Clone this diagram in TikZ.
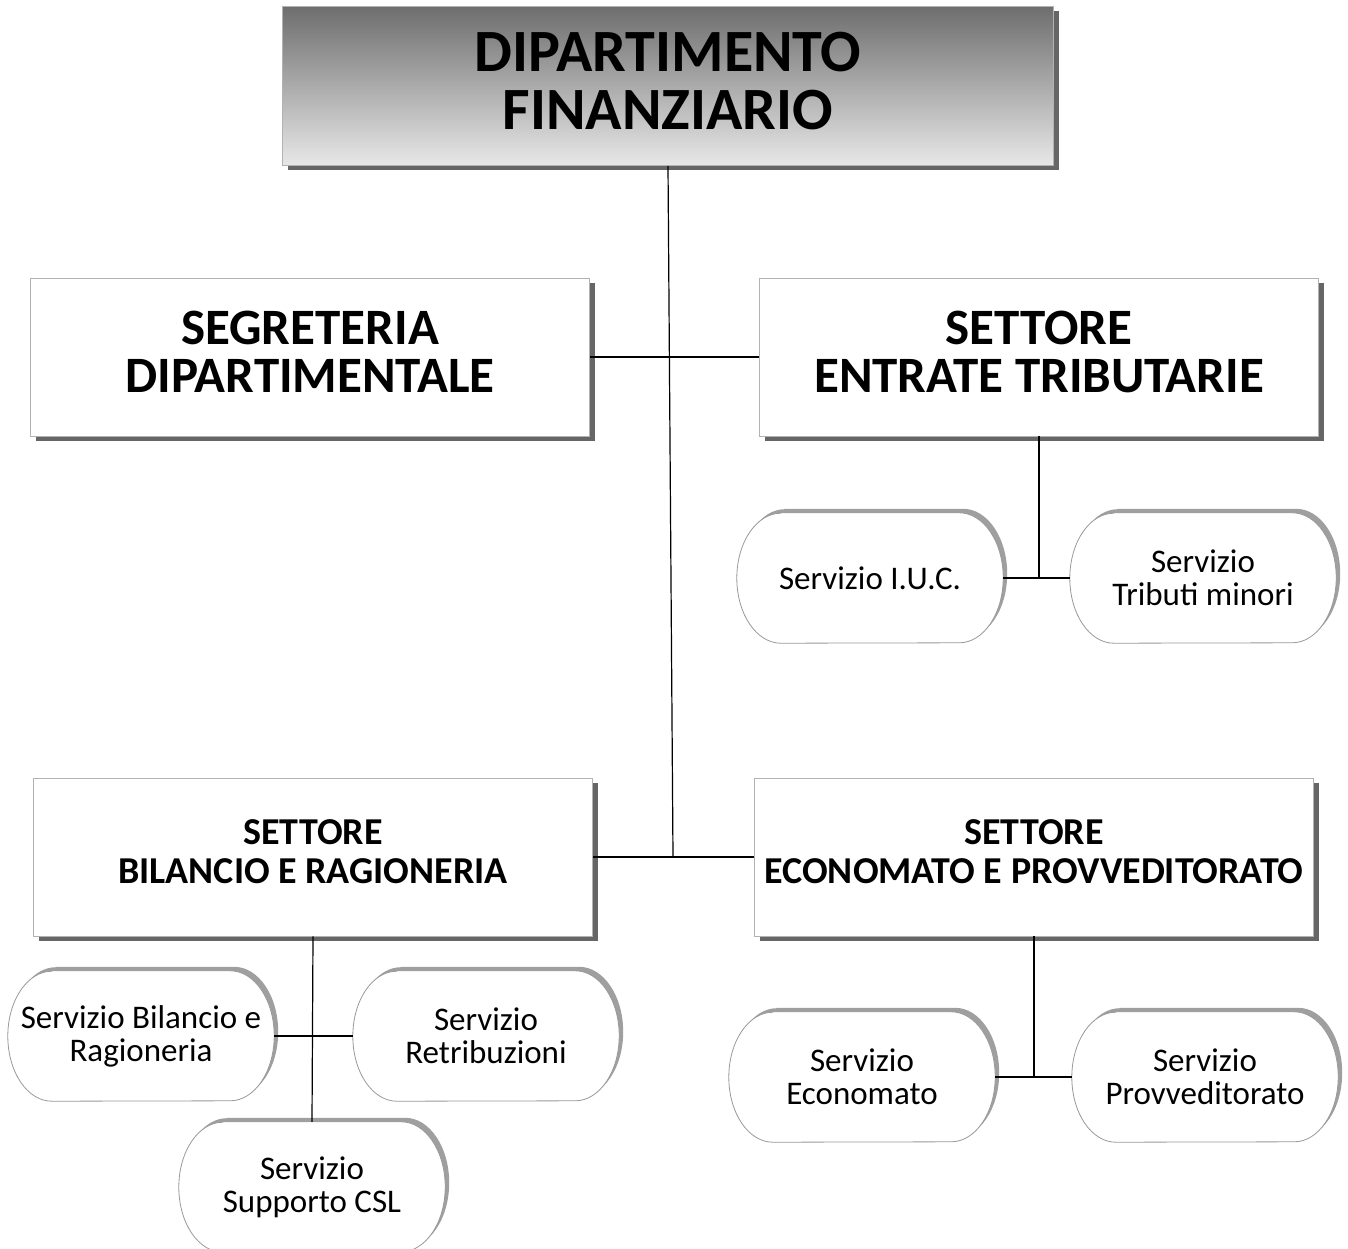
\documentclass[tikz,border=0pt]{standalone}
\usepackage{fontspec}
\setmainfont{Carlito}
\usepackage{tikz}
\usetikzlibrary{shadows,backgrounds}

\begin{document}
\begin{tikzpicture}[x=1pt,y=-1pt,
    box/.style={draw=gray!60, fill=white, line width=0.8pt, align=center,
        minimum width=559pt, minimum height=158pt, inner sep=0pt, text depth=10pt,
        drop shadow={shadow xshift=5pt, shadow yshift=-5pt, fill=black!60, opacity=1}},
    bigtxt/.style={font=\bfseries\fontsize{51}{48}\selectfont},
    midtxt/.style={font=\bfseries\fontsize{38}{39}\selectfont},
    srv/.style={minimum width=266pt, minimum height=130pt, inner sep=0pt, align=center,
        font=\fontsize{33}{33}\selectfont},
    capsule/.style={draw=gray!80, fill=white, line width=0.8pt},
    capshadow/.style={fill=gray!75},
    link/.style={draw=black, line width=1.2pt}]

\useasboundingbox (0,0) rectangle (1348,1249);

% vertice
\node[box, minimum width=771pt, minimum height=159pt, top color=black!57, bottom color=black!9,
    font=\bfseries\fontsize{60}{58}\selectfont] (dip) at (668,86) {DIPARTIMENTO\\FINANZIARIO};

% settori
\node[box, bigtxt] (segr) at (310,357) {SEGRETERIA\\DIPARTIMENTALE};
\node[box, bigtxt] (entr) at (1039,357) {SETTORE\\ENTRATE TRIBUTARIE};
\node[box, midtxt] (bil) at (313,857) {SETTORE\\BILANCIO E RAGIONERIA};
\node[box, midtxt] (econ) at (1034,857) {SETTORE\\ECONOMATO E PROVVEDITORATO};

% servizi
\node[srv] (iuc) at (870,578) {Servizio I.U.C.};
\node[srv] (trib) at (1203,578) {Servizio\\Tributi minori};
\node[srv] (bra) at (141,1036) {Servizio Bilancio e\\Ragioneria};
\node[srv] (ret) at (486,1036) {Servizio\\Retribuzioni};
\node[srv] (csl) at (312,1187) {Servizio\\Supporto CSL};
\node[srv] (eco) at (862,1077) {Servizio\\Economato};
\node[srv] (prov) at (1205,1077) {Servizio\\Provveditorato};

% contorni dei servizi
\begin{scope}[on background layer]
\foreach \n in {iuc,trib,bra,ret,csl,eco,prov} {
    \foreach \st/\dx/\dy in {capshadow/4/-4, capsule/0/0}
        \path[\st, transform canvas={shift={(\dx,\dy)}}] ([xshift=44pt]\n.north west) -- ([xshift=-44pt]\n.north east)
            arc[start angle=-90, end angle=90, x radius=44, y radius=65]
            -- ([xshift=44pt]\n.south west)
            arc[start angle=90, end angle=270, x radius=44, y radius=65] -- cycle;
}
\end{scope}

\coordinate (j) at (673,857);

\draw[link] (dip.south) -- (j);
\draw[link] (segr.east) -- (entr.west);
\draw[link] (bil.east) -- (econ.west);

\draw[link] (entr.south) -- (entr.south |- iuc.east);
\draw[link] (iuc.east) -- (trib.west);

\draw[link] (bil.south) -- (csl.north);
\draw[link] (bra.east) -- (ret.west);

\draw[link] (econ.south) -- (econ.south |- eco.east);
\draw[link] (eco.east) -- (prov.west);

\end{tikzpicture}
\end{document}
